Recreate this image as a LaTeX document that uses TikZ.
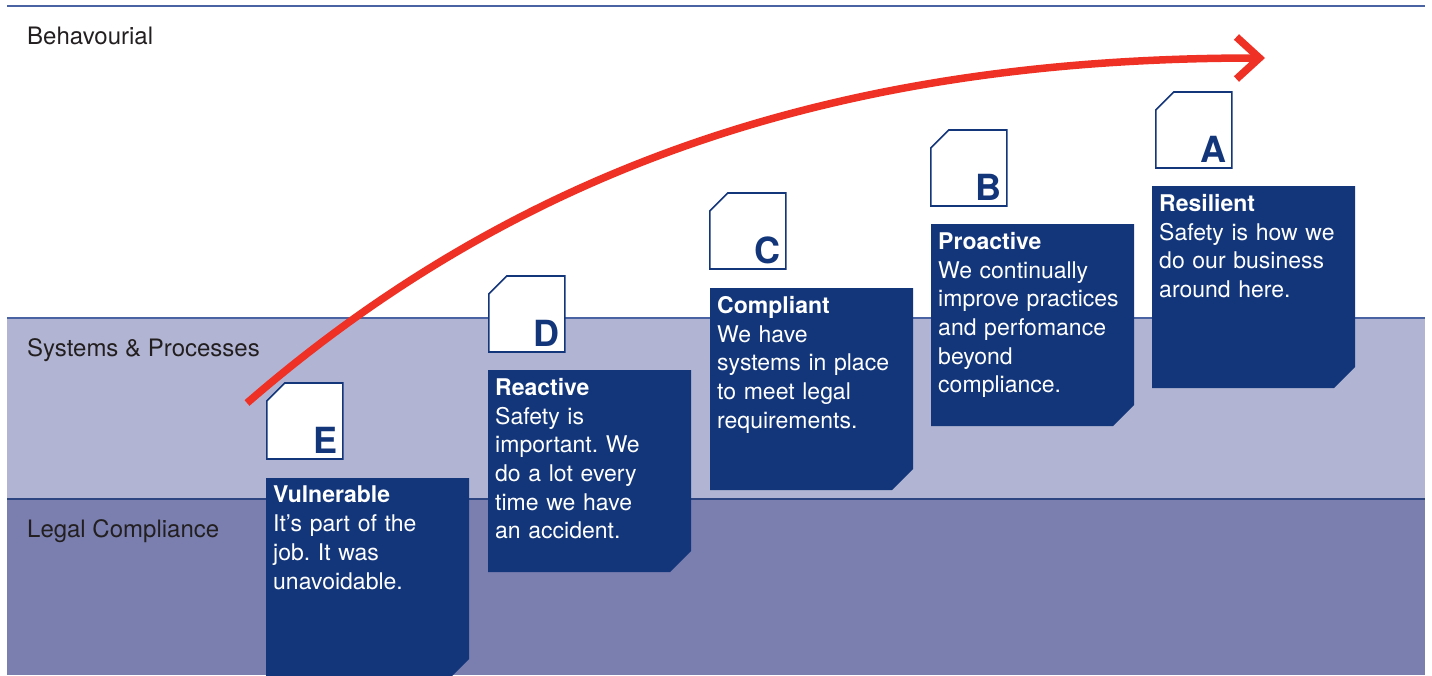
\documentclass[tikz,border=0pt]{standalone}
\usepackage{fontspec}
\setmainfont{TeX Gyre Heros}
\usetikzlibrary{arrows.meta}
\frenchspacing

\definecolor{cardblue}{HTML}{13367A}
\definecolor{sysband}{HTML}{B1B5D3}
\definecolor{legalband}{HTML}{7A7FB0}
\definecolor{bandline}{HTML}{4A64A3}
\definecolor{legalline}{HTML}{2D4580}
\definecolor{trendred}{HTML}{EE3124}
\definecolor{labelgray}{HTML}{231F20}

\newcommand\cardfont{\fontsize{23}{28.7}\selectfont}

\tikzset{
  bandlabel/.style={anchor=base west,inner sep=0pt,text=labelgray,font=\fontsize{24}{28}\selectfont},
  card/.style={fill=cardblue},
  cardtext/.style={anchor=north west,inner sep=0pt,text width=192pt,align=left,text=white,font=\cardfont},
  tag/.style={draw=cardblue,line width=1.6pt,fill=white},
  tagletter/.style={anchor=base east,inner sep=0pt,text=cardblue,font=\fontsize{36}{40}\selectfont\bfseries},
  trend/.style={trendred,line width=7.5pt,-{Straight Barb[length=23pt,width=42pt]}}
}

\begin{document}
\begin{tikzpicture}[x=1pt,y=-1pt]
	\useasboundingbox (0,0) rectangle (1432,675);

	% bands
	\fill[sysband] (7,318) rectangle (1425,499);
	\fill[legalband] (7,499) rectangle (1425,675);
	\draw[bandline,line width=1.5pt] (7,6) -- (1425,6);
	\draw[bandline,line width=1.5pt] (7,318) -- (1425,318);
	\draw[legalline,line width=1.5pt] (7,499) -- (1425,499);

	\node[bandlabel] (behavourial) at (27,44.5) {Behavourial};
	\node[bandlabel] (systems) at (27,356) {Systems \& Processes};
	\node[bandlabel] (legal) at (27,537.5) {Legal Compliance};

	% E
	\draw[tag] (266.8,401) -- ++(18,-18) -- ++(58,0) -- ++(0,76) -- ++(-76,0) -- cycle;
	\node[tagletter] (letE) at (338,453) {E};
	\fill[card] (266,478) -- ++(203,0) -- ++(0,181) -- ++(-21,21) -- ++(-182,0) -- cycle;
	\node[cardtext] (vulnerable) at (273,486)
		{\textbf{Vulnerable}\\It’s part of the\\job. It was\\unavoidable.};

	% D
	\draw[tag] (488.8,294) -- ++(18,-18) -- ++(58,0) -- ++(0,76) -- ++(-76,0) -- cycle;
	\node[tagletter] (letD) at (560,346) {D};
	\fill[card] (488,370) -- ++(203,0) -- ++(0,181) -- ++(-21,21) -- ++(-182,0) -- cycle;
	\node[cardtext] (reactive) at (495,378)
		{\textbf{Reactive}\\Safety is\\important. We\\do a lot every\\time we have\\an accident.};

	% C
	\draw[tag] (709.8,211) -- ++(18,-18) -- ++(58,0) -- ++(0,76) -- ++(-76,0) -- cycle;
	\node[tagletter] (letC) at (781,263) {C};
	\fill[card] (710,288) -- ++(203,0) -- ++(0,181) -- ++(-21,21) -- ++(-182,0) -- cycle;
	\node[cardtext] (compliant) at (717,296)
		{\textbf{Compliant}\\We have\\systems in place\\to meet legal\\requirements.};

	% B
	\draw[tag] (930.8,148) -- ++(18,-18) -- ++(58,0) -- ++(0,76) -- ++(-76,0) -- cycle;
	\node[tagletter] (letB) at (1002,200) {B};
	\fill[card] (931,224) -- ++(203,0) -- ++(0,181) -- ++(-21,21) -- ++(-182,0) -- cycle;
	\node[cardtext] (proactive) at (938,232)
		{\textbf{Proactive}\\We continually\\improve practices\\and perfomance\\beyond\\compliance.};

	% A
	\draw[tag] (1155.8,110) -- ++(18,-18) -- ++(58,0) -- ++(0,76) -- ++(-76,0) -- cycle;
	\node[tagletter] (letA) at (1227,162) {A};
	\fill[card] (1152,186) -- ++(203,0) -- ++(0,181) -- ++(-21,21) -- ++(-182,0) -- cycle;
	\node[cardtext] (resilient) at (1159,194)
		{\textbf{Resilient}\\Safety is how we\\do our business\\around here.};

	% trend arrow
	\coordinate (trendstart) at (247,403);
	\coordinate (trendend) at (1265,58);
	\draw[trend] (trendstart) .. controls (534,154) and (862,58) .. (trendend);

\end{tikzpicture}
\end{document}
